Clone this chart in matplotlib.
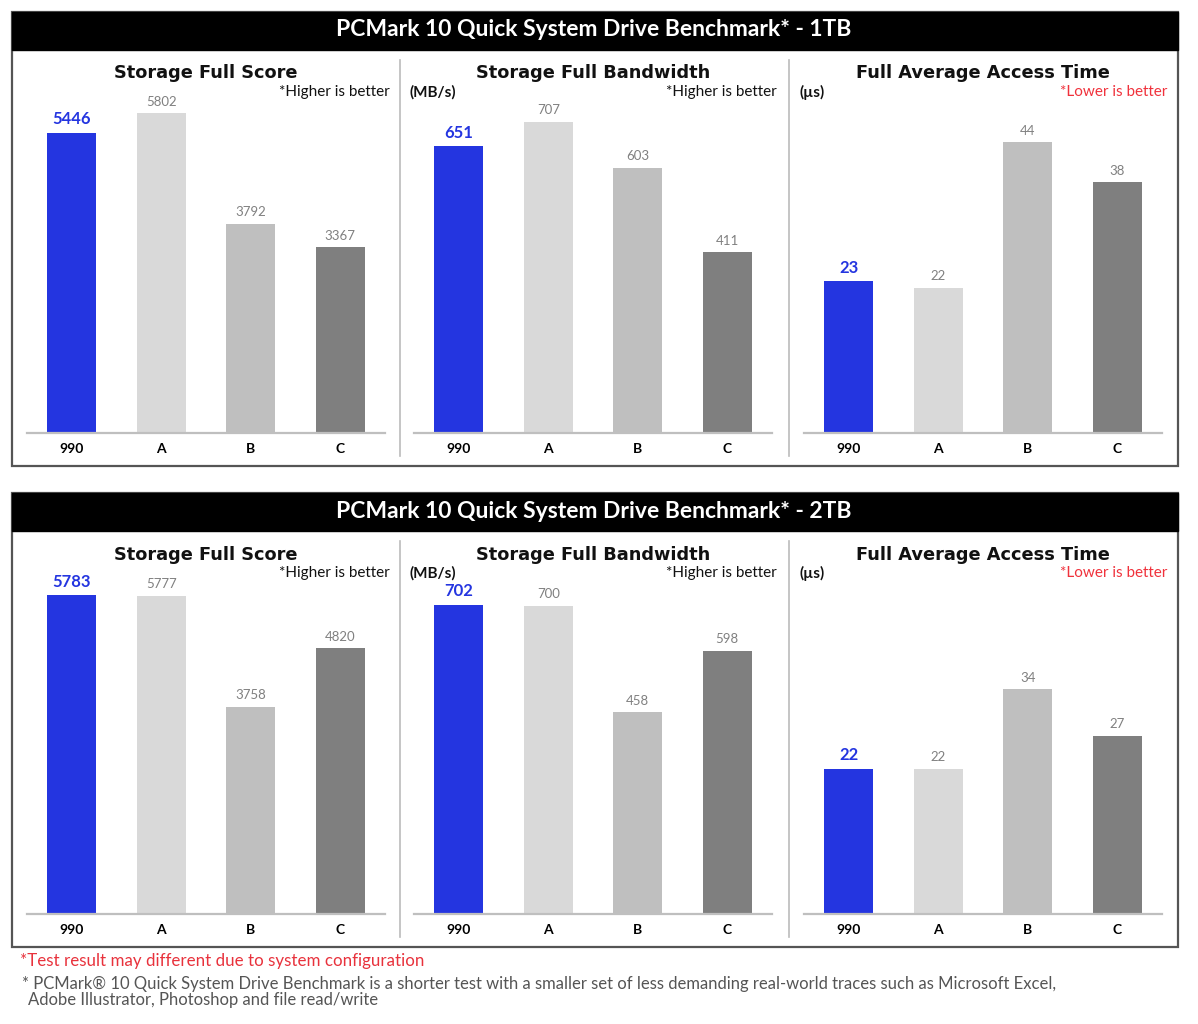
import matplotlib
matplotlib.use('Agg')
import matplotlib.pyplot as plt
from matplotlib.patches import Rectangle
from matplotlib.lines import Line2D

plt.rcParams['font.family'] = ['Lato', 'DejaVu Sans']
WIDE = ['DejaVu Sans']

# ==========================================
# data
# ==========================================
categories = ['990', 'A', 'B', 'C']

score_1tb = [5446, 5802, 3792, 3367]
bandwidth_1tb = [651, 707, 603, 411]
access_1tb = [23, 22, 44, 38]

score_2tb = [5783, 5777, 3758, 4820]
bandwidth_2tb = [702, 700, 458, 598]
access_2tb = [22, 22, 34, 27]

panel_titles = ['PCMark 10 Quick System Drive Benchmark* - 1TB',
                'PCMark 10 Quick System Drive Benchmark* - 2TB']
chart_titles = ['Storage Full Score', 'Storage Full Bandwidth', 'Full Average Access Time']
units = [None, '(MB/s)', '(\u00b5s)']
notes = ['*Higher is better', '*Higher is better', '*Lower is better']

# ==========================================
# style
# ==========================================
bar_colors = ['#2435E0', '#D9D9D9', '#BFBFBF', '#7F7F7F']
value_colors = ['#2435E0', '#808080', '#808080', '#808080']
note_colors = ['#111111', '#111111', '#F0323C']
ylim_tops = [6950, 870, 58]

W, H = 1198, 1024
fig = plt.figure(figsize=(W / 100, H / 100), dpi=100)


def fx(x):
    return x / W


def fy(y):
    return 1 - y / H


def draw_panel(y0, title, series):
    # outer box + black header
    fig.add_artist(Rectangle((fx(12), fy(y0 + 454)), fx(1166), 454 / H,
                             transform=fig.transFigure, facecolor='none',
                             edgecolor='#555555', linewidth=1.6))
    fig.add_artist(Rectangle((fx(12), fy(y0 + 38)), fx(1166), 38 / H,
                             transform=fig.transFigure, facecolor='black',
                             edgecolor='black', linewidth=1.0))
    fig.text(fx(594), fy(y0 + 18), title, color='white', fontsize=16.5,
             fontweight='bold', ha='center', va='center')

    # separators
    for xs in (400, 789):
        fig.add_artist(Line2D([fx(xs), fx(xs)], [fy(y0 + 48), fy(y0 + 444)],
                              transform=fig.transFigure, color='#BBBBBB', linewidth=1.2))

    lefts = [27, 414, 804]
    width = 358
    base = y0 + 421
    top = y0 + 38
    for i, vals in enumerate(series):
        ax = fig.add_axes([fx(lefts[i]), fy(base), width / W, (base - top) / H])
        ax.patch.set_alpha(0)
        x = range(len(categories))
        ax.bar(x, vals, width=0.55, color=bar_colors)
        ax.set_xlim(-0.5, 3.5)
        ax.set_ylim(0, ylim_tops[i])
        for s in ('top', 'left', 'right'):
            ax.spines[s].set_visible(False)
        ax.spines['bottom'].set_color('#BFBFBF')
        ax.spines['bottom'].set_linewidth(1.6)
        ax.set_yticks([])
        ax.set_xticks(list(x))
        ax.set_xticklabels(categories, fontweight='bold', fontsize=10)
        ax.tick_params(axis='x', length=0, pad=7.5)
        for j, v in enumerate(vals):
            ax.annotate(str(v), (j, v), xytext=(0, 4), textcoords='offset points',
                        ha='center', va='bottom', color=value_colors[j],
                        fontsize=12 if j == 0 else 9.5,
                        fontweight='bold' if j == 0 else 'normal')

        cx = lefts[i] + width / 2
        fig.text(fx(cx), fy(y0 + 61.5), chart_titles[i], fontsize=12.8,
                 fontweight='bold', ha='center', va='center', color='#111111',
                 family=WIDE)
        fig.text(fx(lefts[i] + width + 5), fy(y0 + 80), notes[i], fontsize=11,
                 ha='right', va='center', color=note_colors[i])
        if units[i]:
            fig.text(fx(lefts[i] - 5), fy(y0 + 80), units[i], fontsize=11,
                     fontweight='bold', ha='left', va='center', color='#111111')


draw_panel(12, panel_titles[0], [score_1tb, bandwidth_1tb, access_1tb])
draw_panel(493, panel_titles[1], [score_2tb, bandwidth_2tb, access_2tb])

# ==========================================
# footnotes
# ==========================================
fig.text(fx(20), fy(961), '*Test result may different due to system configuration',
         color='#E8323C', fontsize=12.2, ha='left', va='center')
fig.text(fx(22), fy(984),
         '* PCMark\u00ae 10 Quick System Drive Benchmark is a shorter test with a smaller set of '
         'less demanding real-world traces such as Microsoft Excel,',
         color='#555555', fontsize=12, ha='left', va='center')
fig.text(fx(28), fy(1000), 'Adobe Illustrator, Photoshop and file read/write',
         color='#555555', fontsize=12, ha='left', va='center')

fig.savefig('out.png', dpi=100, facecolor='white')
